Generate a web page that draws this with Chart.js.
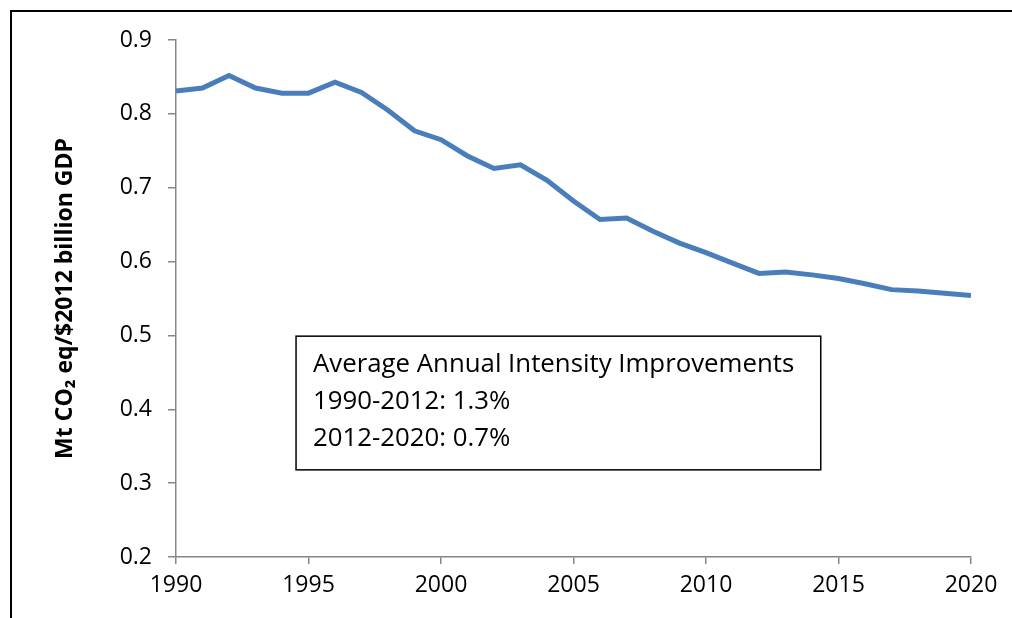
<!DOCTYPE html>
<html>
<head>
<meta charset="utf-8">
<script src="https://cdn.jsdelivr.net/npm/chart.js@4/dist/chart.umd.min.js"></script>
<style>
  html, body { margin: 0; padding: 0; background: #ffffff; }
  #wrap { width: 1012px; height: 618px; position: relative; }
</style>
</head>
<body>
<div id="wrap"><canvas id="c" width="1012" height="618"></canvas></div>
<script>
// ---- data ----
const years = [1990,1991,1992,1993,1994,1995,1996,1997,1998,1999,2000,2001,2002,2003,2004,2005,2006,2007,2008,2009,2010,2011,2012,2013,2014,2015,2016,2017,2018,2019,2020];
const intensity = [0.831,0.835,0.852,0.835,0.828,0.828,0.843,0.829,0.805,0.777,0.765,0.743,0.726,0.731,0.710,0.682,0.657,0.659,0.641,0.625,0.612,0.598,0.584,0.586,0.582,0.577,0.570,0.562,0.560,0.557,0.554];
const yTicks = [0.2,0.3,0.4,0.5,0.6,0.7,0.8,0.9];
const xTicks = [1990,1995,2000,2005,2010,2015,2020];
const yTitle = 'Mt CO\u2082 eq/$2012 billion GDP';
const noteLines = ['Average Annual Intensity Improvements', '1990-2012: 1.3%', '2012-2020: 0.7%'];
// note box corners in data units (x: year, y: value)
const noteBox = { x0: 1994.53, x1: 2014.33, y0: 0.499, y1: 0.318 };

const FONT = '"Open Sans", Lato, "Liberation Sans", sans-serif';

const framePlugin = {
  id: 'frame',
  beforeDraw(chart) {
    const ctx = chart.ctx;
    ctx.save();
    ctx.fillStyle = '#ffffff';
    ctx.fillRect(0, 0, chart.width, chart.height);
    ctx.strokeStyle = '#000000';
    ctx.lineWidth = 2;
    ctx.strokeRect(11, 11, chart.width + 20, chart.height + 20);
    ctx.restore();
  }
};

const notePlugin = {
  id: 'note',
  afterDraw(chart) {
    const xs = chart.scales.x, ys = chart.scales.y;
    const l = xs.getPixelForValue(noteBox.x0), r = xs.getPixelForValue(noteBox.x1);
    const t = ys.getPixelForValue(noteBox.y0), b = ys.getPixelForValue(noteBox.y1);
    const ctx = chart.ctx;
    ctx.save();
    ctx.fillStyle = '#ffffff';
    ctx.fillRect(l, t, r - l, b - t);
    ctx.strokeStyle = '#000000';
    ctx.lineWidth = 1.5;
    ctx.strokeRect(l, t, r - l, b - t);
    ctx.fillStyle = '#000000';
    ctx.font = '25.8px ' + FONT;
    ctx.textBaseline = 'middle';
    ctx.textAlign = 'left';
    noteLines.forEach((s, i) => {
      ctx.fillText(s, l + 17, t + 28 + i * 37);
    });
    ctx.restore();
  }
};

new Chart(document.getElementById('c'), {
  type: 'line',
  data: {
    datasets: [{
      data: years.map((y, i) => ({ x: y, y: intensity[i] })),
      borderColor: '#4a7ebb',
      borderWidth: 5,
      pointRadius: 0,
      tension: 0,
      fill: false
    }]
  },
  options: {
    responsive: false,
    animation: false,
    devicePixelRatio: 1,
    layout: { padding: { left: 0, top: 40, right: 41, bottom: 0 } },
    plugins: { legend: { display: false }, tooltip: { enabled: false } },
    scales: {
      x: {
        type: 'linear',
        min: 1990, max: 2020,
        afterBuildTicks: (s) => { s.ticks = xTicks.map(v => ({ value: v })); },
        afterFit: (s) => { s.height = 61; },
        grid: { display: true, drawOnChartArea: false, drawTicks: true, tickLength: 7, color: '#868686', lineWidth: 1.5 },
        border: { display: true, color: '#868686', width: 1.5 },
        ticks: { color: '#000000', font: { family: FONT, size: 23 }, padding: 8, maxRotation: 0, autoSkip: false, callback: (v) => String(v) }
      },
      y: {
        type: 'linear',
        min: 0.2, max: 0.9,
        afterBuildTicks: (s) => { s.ticks = yTicks.map(v => ({ value: v })); },
        afterFit: (s) => { s.width = 176; },
        grid: { display: true, drawOnChartArea: false, drawTicks: true, tickLength: 8, color: '#868686', lineWidth: 1.5 },
        border: { display: true, color: '#868686', width: 1.5 },
        ticks: { color: '#000000', font: { family: FONT, size: 23 }, padding: 16, callback: (v) => Number(v).toFixed(1) },
        title: { display: true, text: yTitle, color: '#000000', font: { family: FONT, size: 23, weight: 'bold' }, padding: { top: 52, bottom: 0 } }
      }
    }
  },
  plugins: [framePlugin, notePlugin]
});
</script>
</body>
</html>
